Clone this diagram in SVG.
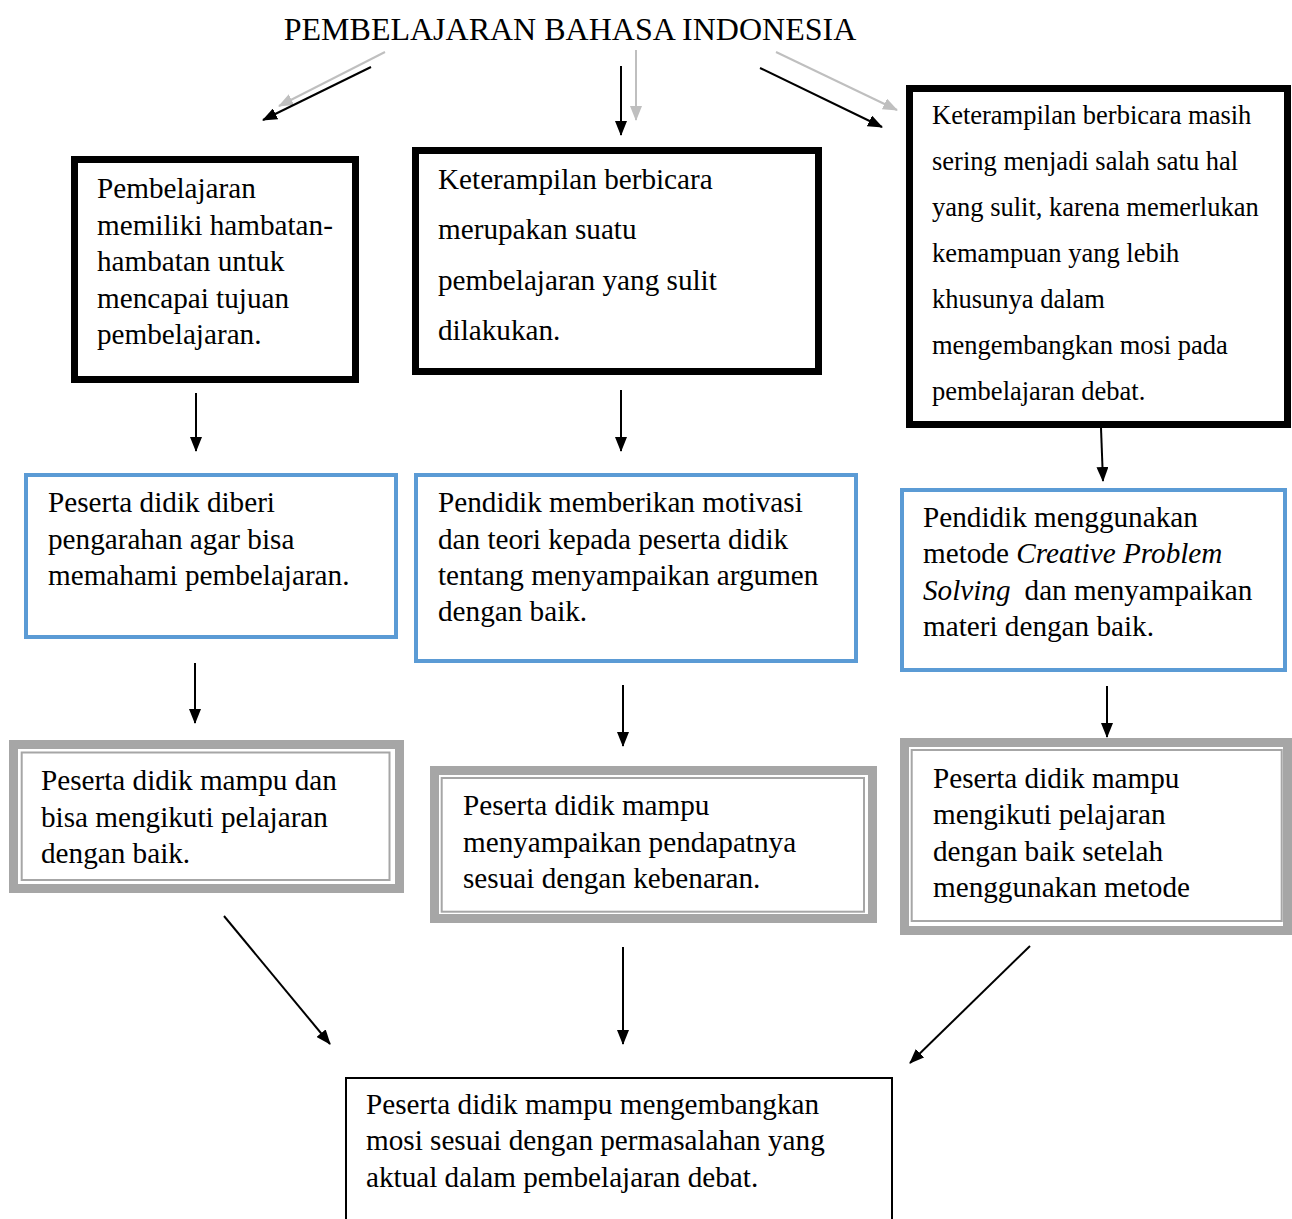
<svg xmlns="http://www.w3.org/2000/svg" width="1292" height="1219" viewBox="0 0 1292 1219">
<style>
text{font-family:"Liberation Serif","Times New Roman",serif;fill:#000}
.t{font-size:29.2px}
.s{font-size:26.5px}
.blk{fill:#fff;stroke:#000;stroke-width:7}
.blu{fill:#fff;stroke:#5B9BD5;stroke-width:4}
.go{fill:#fff;stroke:#A6A6A6;stroke-width:9}
.gi{fill:none;stroke:#A6A6A6;stroke-width:2}
.a{stroke:#000;stroke-width:2;fill:none;marker-end:url(#ah)}
.g{stroke:#BFBFBF;stroke-width:2;fill:none;marker-end:url(#ag)}
</style>
<defs>
<marker id="ah" markerUnits="userSpaceOnUse" markerWidth="16" markerHeight="12" refX="14" refY="6" orient="auto"><path d="M0,0 L15,6 L0,12 Z" fill="#000"/></marker>
<marker id="ag" markerUnits="userSpaceOnUse" markerWidth="16" markerHeight="12" refX="14" refY="6" orient="auto"><path d="M0,0 L15,6 L0,12 Z" fill="#BFBFBF"/></marker>
</defs>
<rect width="1292" height="1219" fill="#fff"/>
<g id="title"><text x="570" y="40" font-size="32" text-anchor="middle">PEMBELAJARAN BAHASA INDONESIA</text></g>
<g id="connectors">
<line class="g" x1="385" y1="52" x2="279" y2="106"/>
<line class="a" x1="371" y1="67" x2="263" y2="120"/>
<line class="g" x1="636" y1="50" x2="636" y2="120"/>
<line class="a" x1="621" y1="66" x2="621" y2="135"/>
<line class="g" x1="776" y1="52" x2="897" y2="110"/>
<line class="a" x1="760" y1="68" x2="882" y2="127"/>
<line class="a" x1="196" y1="393" x2="196" y2="451"/>
<line class="a" x1="621" y1="390" x2="621" y2="451"/>
<line class="a" x1="1101" y1="428" x2="1103" y2="481"/>
<line class="a" x1="195" y1="663" x2="195" y2="723"/>
<line class="a" x1="623" y1="685" x2="623" y2="746"/>
<line class="a" x1="1107" y1="686" x2="1107" y2="737"/>
<line class="a" x1="224" y1="916" x2="330" y2="1044"/>
<line class="a" x1="623" y1="947" x2="623" y2="1044"/>
<line class="a" x1="1030" y1="946" x2="910" y2="1063"/>
</g>
<g id="n1">
<rect class="blk" x="74.5" y="159.5" width="281" height="220"/>
<text class="t" x="97" y="198">Pembelajaran</text>
<text class="t" x="97" y="235">memiliki hambatan-</text>
<text class="t" x="97" y="271">hambatan untuk</text>
<text class="t" x="97" y="308">mencapai tujuan</text>
<text class="t" x="97" y="344">pembelajaran.</text>
</g>
<g id="n2">
<rect class="blk" x="415.5" y="150.5" width="403" height="221"/>
<text class="t" x="438" y="189">Keterampilan berbicara</text>
<text class="t" x="438" y="239">merupakan suatu</text>
<text class="t" x="438" y="290">pembelajaran yang sulit</text>
<text class="t" x="438" y="340">dilakukan.</text>
</g>
<g id="n3">
<rect class="blk" x="909.5" y="88.5" width="378" height="336"/>
<text class="s" x="932" y="124">Keterampilan berbicara masih</text>
<text class="s" x="932" y="170">sering menjadi salah satu hal</text>
<text class="s" x="932" y="216">yang sulit, karena memerlukan</text>
<text class="s" x="932" y="262">kemampuan yang lebih</text>
<text class="s" x="932" y="308">khusunya dalam</text>
<text class="s" x="932" y="354">mengembangkan mosi pada</text>
<text class="s" x="932" y="400">pembelajaran debat.</text>
</g>
<g id="n4">
<rect class="blu" x="26" y="475" width="370" height="162"/>
<text class="t" x="48" y="512">Peserta didik diberi</text>
<text class="t" x="48" y="549">pengarahan agar bisa</text>
<text class="t" x="48" y="585">memahami pembelajaran.</text>
</g>
<g id="n5">
<rect class="blu" x="416" y="475" width="440" height="186"/>
<text class="t" x="438" y="512">Pendidik memberikan motivasi</text>
<text class="t" x="438" y="549">dan teori kepada peserta didik</text>
<text class="t" x="438" y="585">tentang menyampaikan argumen</text>
<text class="t" x="438" y="621">dengan baik.</text>
</g>
<g id="n6">
<rect class="blu" x="902" y="490" width="383" height="180"/>
<text class="t" x="923" y="527">Pendidik menggunakan</text>
<text class="t" x="923" y="563">metode <tspan font-style="italic">Creative Problem</tspan></text>
<text class="t" x="923" y="600"><tspan font-style="italic">Solving</tspan><tspan dx="14">dan menyampaikan</tspan></text>
<text class="t" x="923" y="636">materi dengan baik.</text>
</g>
<g id="n7">
<rect class="go" x="13.5" y="744.5" width="386" height="144"/>
<rect class="gi" x="21.7" y="752.5" width="367.8" height="127.5"/>
<text class="t" x="41" y="790">Peserta didik mampu dan</text>
<text class="t" x="41" y="827">bisa mengikuti pelajaran</text>
<text class="t" x="41" y="863">dengan baik.</text>
</g>
<g id="n8">
<rect class="go" x="434.5" y="770.5" width="438" height="148"/>
<rect class="gi" x="441.7" y="778" width="422.3" height="133.7"/>
<text class="t" x="463" y="815">Peserta didik mampu</text>
<text class="t" x="463" y="852">menyampaikan pendapatnya</text>
<text class="t" x="463" y="888">sesuai dengan kebenaran.</text>
</g>
<g id="n9">
<rect class="go" x="904.5" y="742.5" width="383" height="188"/>
<rect class="gi" x="911.7" y="750" width="370" height="171"/>
<text class="t" x="933" y="788">Peserta didik mampu</text>
<text class="t" x="933" y="824">mengikuti pelajaran</text>
<text class="t" x="933" y="861">dengan baik setelah</text>
<text class="t" x="933" y="897">menggunakan metode</text>
</g>
<g id="n10">
<path d="M346,1225 V1078 H892 V1225" fill="#fff" stroke="#000" stroke-width="2"/>
<text class="t" x="366" y="1114">Peserta didik mampu mengembangkan</text>
<text class="t" x="366" y="1150">mosi sesuai dengan permasalahan yang</text>
<text class="t" x="366" y="1187">aktual dalam pembelajaran debat.</text>
</g>
</svg>
